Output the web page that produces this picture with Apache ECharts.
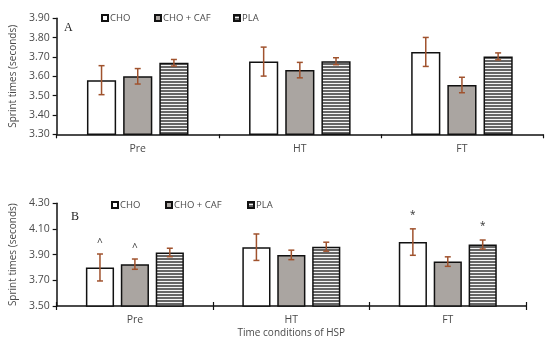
<!DOCTYPE html>
<html>
<head>
<meta charset="utf-8">
<script src="https://cdn.jsdelivr.net/npm/echarts@6/dist/echarts.min.js"></script>
<style>html,body{margin:0;padding:0;background:#fff;}#c{width:550px;height:339px;}</style>
</head>
<body>
<div id="c"></div>
<script>
const categories = ['Pre', 'HT', 'FT'];
const seriesNames = ['CHO', 'CHO + CAF', 'PLA'];
// Panel A means and SD
const aCHO = [3.58, 3.676, 3.726];
const aCAF = [3.60, 3.632, 3.555];
const aPLA = [3.67, 3.678, 3.703];
const aErrCHO = [0.075, 0.075, 0.075];
const aErrCAF = [0.04, 0.04, 0.04];
const aErrPLA = [0.017, 0.018, 0.018];
// Panel B means and SD
const bCHO = [3.80, 3.958, 3.998];
const bCAF = [3.826, 3.898, 3.846];
const bPLA = [3.917, 3.962, 3.979];
const bErrCHO = [0.105, 0.103, 0.103];
const bErrCAF = [0.04, 0.037, 0.037];
const bErrPLA = [0.033, 0.035, 0.035];
const bAnnCHO = ['^', '', '*'];
const bAnnCAF = ['^', '', ''];
const bAnnPLA = ['', '', '*'];
const aTicks = {min: 3.30, max: 3.90, interval: 0.10};
const bTicks = {min: 3.50, max: 4.30, interval: 0.20};

const FONT = '"Open Sans", sans-serif';
const GREY = '#4a4a4a';

// stripe pattern
const pc = document.createElement('canvas');
pc.width = 4; pc.height = 3;
const g = pc.getContext('2d');
g.fillStyle = '#666666'; g.fillRect(0, 0, 4, 3);
g.fillStyle = '#f4f4f4'; g.fillRect(0, 2, 4, 1);

const fills = ['#ffffff', '#aaa5a1', {image: pc, repeat: 'repeat'}];
const BW = 0.18, GAP = 0.24;

function barSeries(name, vals, k, axis) {
  return {
    type: 'bar', name: name, xAxisIndex: axis, yAxisIndex: axis,
    data: vals, barWidth: (BW * 100) + '%', barGap: (GAP * 100) + '%',
    itemStyle: {color: fills[k], borderColor: '#111', borderWidth: 1.5},
    z: 2, silent: true
  };
}
function errSeries(vals, errs, anns, k, axis) {
  const data = vals.map((v, i) => [i, v - errs[i], v + errs[i], anns ? anns[i] : '']);
  return {
    type: 'custom', xAxisIndex: axis, yAxisIndex: axis, z: 5, silent: true,
    data: data,
    renderItem: function (params, api) {
      const x = api.value(0);
      const lo = api.coord([x, api.value(1)]);
      const hi = api.coord([x, api.value(2)]);
      const band = api.size([1, 0])[0];
      const bw = band * BW;
      const off = (k - 1) * (bw + bw * GAP);
      const cx = hi[0] + off;
      const cw = 3;
      const st = {stroke: '#a0522d', lineWidth: 1.5};
      const children = [
        {type: 'line', shape: {x1: cx, y1: hi[1], x2: cx, y2: lo[1]}, style: st},
        {type: 'line', shape: {x1: cx - cw, y1: hi[1], x2: cx + cw, y2: hi[1]}, style: st},
        {type: 'line', shape: {x1: cx - cw, y1: lo[1], x2: cx + cw, y2: lo[1]}, style: st}
      ];
      const ann = data[params.dataIndex][3];
      if (ann) {
        children.push({type: 'text', style: {
          text: ann, x: cx, y: hi[1] - (ann === '*' ? 14 : 11),
          align: 'center', verticalAlign: 'middle',
          font: '10px ' + FONT, fill: '#333'
        }});
      }
      return {type: 'group', children: children};
    }
  };
}

function yAxis(grid, t) {
  return {
    type: 'value', gridIndex: grid, min: t.min, max: t.max, interval: t.interval,
    name: 'Sprint times (seconds)', nameLocation: 'middle', nameGap: 37,
    nameTextStyle: {fontFamily: FONT, fontSize: 10, color: GREY},
    axisLine: {show: true, lineStyle: {color: '#111', width: 1.5}},
    axisTick: {show: true, length: 4, lineStyle: {color: '#111', width: 1.2}},
    axisLabel: {fontFamily: FONT, fontSize: 10.5, color: GREY, margin: 7, formatter: v => v.toFixed(2)},
    splitLine: {show: false}
  };
}
function xAxis(grid, extra) {
  return Object.assign({
    type: 'category', gridIndex: grid, data: categories, position: 'bottom',
    axisLine: {show: true, lineStyle: {color: '#111', width: 1.5}},
    axisTick: {show: true, length: 4, lineStyle: {color: '#111', width: 1.2}},
    axisLabel: {fontFamily: FONT, fontSize: 10.5, color: GREY, margin: 9}
  }, extra || {});
}

function legendItem(name, left, top) {
  return {
    data: [name], left: left, top: top, icon: 'rect', itemWidth: 6, itemHeight: 6,
    itemGap: 0, selectedMode: false,
    textStyle: {fontFamily: FONT, fontSize: 9.5, color: GREY, padding: [0, 0, 0, -3]}
  };
}

const chart = echarts.init(document.getElementById('c'), null, {renderer: 'canvas'});
chart.setOption({
  animation: false,
  backgroundColor: '#fff',
  grid: [
    {left: 54, top: 18.3, width: 489, height: 116},
    {left: 54, top: 203.3, width: 472, height: 103.4}
  ],
  xAxis: [
    xAxis(0),
    xAxis(1, {name: 'Time conditions of HSP', nameLocation: 'middle', nameGap: 22,
      nameTextStyle: {fontFamily: FONT, fontSize: 10, color: GREY}}),
    xAxis(1, {position: 'bottom', axisLine: {show: false}, axisLabel: {show: false},
      axisTick: {show: true, inside: true, length: 4, lineStyle: {color: '#111', width: 1.2}}})
  ],
  yAxis: [yAxis(0, aTicks), yAxis(1, bTicks), Object.assign(yAxis(1, bTicks), {show: false})],
  legend: [
    legendItem('CHO', 96, 8), legendItem('CHO + CAF', 149, 8), legendItem('PLA', 228, 8),
    legendItem('CHO', 106, 195), legendItem('CHO + CAF', 160, 195), legendItem('PLA', 242, 195)
  ],
  graphic: [
    {type: 'text', left: 64, top: 22, style: {text: 'A', font: '12px "Liberation Serif", serif', fill: '#222'}},
    {type: 'text', left: 71, top: 211, style: {text: 'B', font: '12px "Liberation Serif", serif', fill: '#222'}}
  ],
  series: [
    barSeries('CHO', aCHO, 0, 0), barSeries('CHO + CAF', aCAF, 1, 0), barSeries('PLA', aPLA, 2, 0),
    errSeries(aCHO, aErrCHO, null, 0, 0), errSeries(aCAF, aErrCAF, null, 1, 0), errSeries(aPLA, aErrPLA, null, 2, 0),
    barSeries('CHO', bCHO, 0, 1), barSeries('CHO + CAF', bCAF, 1, 1), barSeries('PLA', bPLA, 2, 1),
    errSeries(bCHO, bErrCHO, bAnnCHO, 0, 1), errSeries(bCAF, bErrCAF, bAnnCAF, 1, 1), errSeries(bPLA, bErrPLA, bAnnPLA, 2, 1)
  ]
});
</script>
</body>
</html>
